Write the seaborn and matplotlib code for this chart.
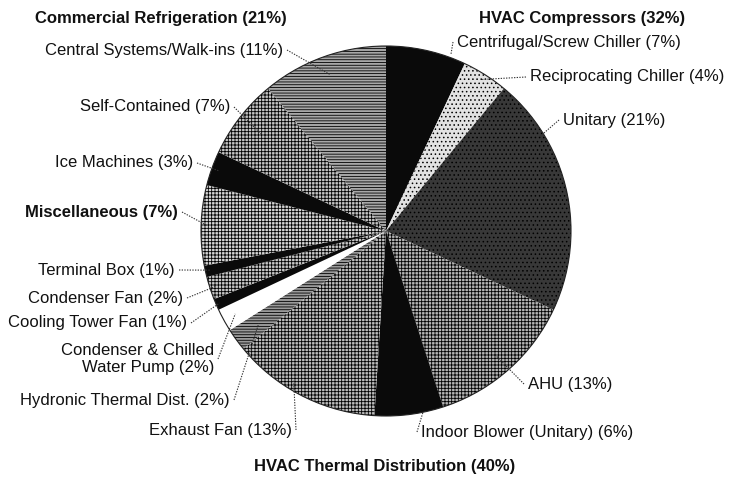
import numpy as np
import matplotlib
matplotlib.use("Agg")
import matplotlib.pyplot as plt
import seaborn as sns

# Energy use shares by end use (percent), clockwise from 12 o'clock
categories = [
    "Centrifugal/Screw Chiller", "Reciprocating Chiller", "Unitary", "AHU",
    "Indoor Blower (Unitary)", "Exhaust Fan", "Hydronic Thermal Dist.",
    "Condenser & Chilled\nWater Pump", "Cooling Tower Fan", "Condenser Fan",
    "Terminal Box", "Miscellaneous", "Ice Machines", "Self-Contained",
    "Central Systems/Walk-ins",
]
shares = [7, 4, 21, 13, 6, 13, 2, 2, 1, 2, 1, 7, 3, 7, 11]

group_titles = ["HVAC Compressors (32%)", "HVAC Thermal Distribution (40%)",
                "Commercial Refrigeration (21%)"]

# Grey fills and hatch textures for each wedge
fills = ["#0a0a0a", "#e2e2e2", "#383838", "#b4b4b4", "#0a0a0a", "#bcbcbc",
         "#9a9a9a", "#ffffff", "#0a0a0a", "#c8c8c8", "#0a0a0a", "#d6d6d6",
         "#0a0a0a", "#c4c4c4", "#a8a8a8"]
hatches = [None, "....", "....", "+++++", None, "+++++", "------", None, None,
           "+++++", None, "+++++", None, "+++++", "------"]

sns.set_theme(style="white")
plt.rcParams["font.family"] = ["Liberation Sans", "DejaVu Sans"]
plt.rcParams["hatch.linewidth"] = 0.6

W, H = 734, 483
fig = plt.figure(figsize=(W / 100, H / 100), dpi=100)
ax = fig.add_axes([0, 0, 1, 1])

cx, cy, R = 386, H - 231, 185
wedges, _ = ax.pie(shares, colors=fills, startangle=90, counterclock=False,
                   center=(cx, cy), radius=R, frame=True,
                   wedgeprops=dict(linewidth=0, edgecolor="black"))
for w, h in zip(wedges, hatches):
    if h:
        w.set_hatch(h)
ax.set_xlim(0, W)
ax.set_ylim(0, H)
ax.set_aspect("equal")
ax.axis("off")
ax.add_patch(plt.Circle((cx, cy), R, fill=False, lw=0.8, color="#222222"))

# Label placement: text x, text y from top, alignment,
# anchor position along the wedge (fraction of its sweep) and radius fraction
label_pos = {
    "Centrifugal/Screw Chiller": (457, 42, "left", 0.8, 1.02),
    "Reciprocating Chiller": (530, 77, "left", 0.5, 0.97),
    "Unitary": (563, 120, "left", 0.25, 0.97),
    "AHU": (528, 384, "left", 0.5, 0.9),
    "Indoor Blower (Unitary)": (421, 432, "left", 0.3, 1.0),
    "Exhaust Fan": (292, 430, "right", 0.6, 0.95),
    "Hydronic Thermal Dist.": (230, 400, "right", 0.5, 0.85),
    "Condenser & Chilled\nWater Pump": (214, 359, "right", 0.5, 0.93),
    "Cooling Tower Fan": (187, 323, "right", 0.5, 0.98),
    "Condenser Fan": (183, 298, "right", 0.5, 0.97),
    "Terminal Box": (175, 270, "right", 0.5, 0.97),
    "Miscellaneous": (178, 212, "right", 0.5, 0.97),
    "Ice Machines": (193, 163, "right", 0.5, 0.96),
    "Self-Contained": (230, 107, "right", 0.5, 0.85),
    "Central Systems/Walk-ins": (283, 50, "right", 0.5, 0.9),
}

cum = np.concatenate([[0], np.cumsum(shares)]) / sum(shares) * 360.0
for i, (cat, val) in enumerate(zip(categories, shares)):
    tx, ty, ha, frac, rf = label_pos[cat]
    ang = 90 - (cum[i] + frac * (cum[i + 1] - cum[i]))
    px = cx + rf * R * np.cos(np.radians(ang))
    py = cy + rf * R * np.sin(np.radians(ang))
    bold = cat == "Miscellaneous"
    ax.text(tx, H - ty, f"{cat} ({val}%)", ha=ha, va="center", fontsize=12,
            fontweight="bold" if bold else "normal", color="#111111",
            linespacing=1.15, multialignment=ha)
    sx = tx + (4 if ha == "right" else -4)
    ax.plot([sx, px], [H - ty, py], color="#333333", lw=0.8,
            linestyle=(0, (1.2, 1.2)))

ax.text(582, H - 18, group_titles[0], ha="center", va="center",
        fontsize=12, fontweight="bold", color="#111111")
ax.text(385, H - 466, group_titles[1], ha="center", va="center",
        fontsize=12, fontweight="bold", color="#111111")
ax.text(161, H - 18, group_titles[2], ha="center", va="center",
        fontsize=12, fontweight="bold", color="#111111")

fig.savefig("out.png", dpi=100)
